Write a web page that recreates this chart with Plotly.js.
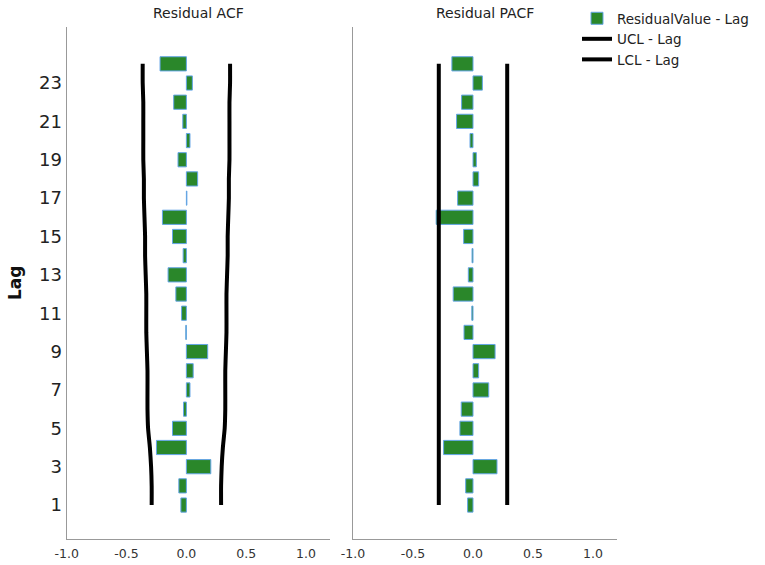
<!DOCTYPE html>
<html>
<head>
<meta charset="utf-8">
<script src="https://cdn.plot.ly/plotly-3.0.1.min.js"></script>
<style>html,body{margin:0;padding:0;background:#fff}#chart{width:765px;height:565px}</style>
</head>
<body>
<div id="chart"></div>
<script>
const lags = [1,2,3,4,5,6,7,8,9,10,11,12,13,14,15,16,17,18,19,20,21,22,23,24];
const acfValues = [-0.046,-0.063,0.204,-0.25,-0.116,-0.024,0.03,0.057,0.178,-0.005,-0.04,-0.088,-0.153,-0.027,-0.116,-0.2,0.004,0.094,-0.07,0.03,-0.03,-0.106,0.05,-0.22];
const acfUCL = [0.29,0.29,0.295,0.305,0.32,0.325,0.325,0.325,0.33,0.335,0.335,0.335,0.34,0.345,0.345,0.35,0.355,0.355,0.36,0.36,0.36,0.36,0.365,0.365];
const acfLCL = [-0.29,-0.29,-0.295,-0.305,-0.32,-0.325,-0.325,-0.325,-0.33,-0.335,-0.335,-0.335,-0.34,-0.345,-0.345,-0.35,-0.355,-0.355,-0.36,-0.36,-0.36,-0.36,-0.365,-0.365];
const pacfValues = [-0.045,-0.061,0.2,-0.245,-0.109,-0.098,0.131,0.047,0.184,-0.075,-0.01,-0.165,-0.039,-0.008,-0.078,-0.307,-0.128,0.047,0.028,-0.025,-0.137,-0.095,0.078,-0.176];
const pacfUCL = [0.285,0.285,0.285,0.285,0.285,0.285,0.285,0.285,0.285,0.285,0.285,0.285,0.285,0.285,0.285,0.285,0.285,0.285,0.285,0.285,0.285,0.285,0.285,0.285];
const pacfLCL = [-0.285,-0.285,-0.285,-0.285,-0.285,-0.285,-0.285,-0.285,-0.285,-0.285,-0.285,-0.285,-0.285,-0.285,-0.285,-0.285,-0.285,-0.285,-0.285,-0.285,-0.285,-0.285,-0.285,-0.285];
const xTickVals = [-1,-0.5,0,0.5,1];
const xTickText = ["-1.0","-0.5","0.0","0.5","1.0"];
const yTickVals = [1,3,5,7,9,11,13,15,17,19,21,23];
const panelTitles = ["Residual ACF","Residual PACF"];

const barColor = 'rgb(42,135,42)';
const barLine = 'rgb(100,165,230)';
const font = 'DejaVu Sans, sans-serif';

function bars(x, xa, ya, show) {
  return {type:'bar', orientation:'h', y:lags, x:x, width:0.74, xaxis:xa, yaxis:ya,
    name:'ResidualValue - Lag', legendgroup:'res', showlegend:show,
    marker:{color:barColor, line:{color:barLine, width:1}}};
}
function lim(x, xa, ya, name, show) {
  return {type:'scatter', mode:'lines', y:lags, x:x, xaxis:xa, yaxis:ya,
    name:name, legendgroup:name, showlegend:show,
    line:{color:'#000', width:4, shape:'spline', smoothing:0.6}};
}
const data = [
  bars(acfValues,'x','y',true),
  lim(acfUCL,'x','y','UCL - Lag',true),
  lim(acfLCL,'x','y','LCL - Lag',true),
  bars(pacfValues,'x2','y2',false),
  lim(pacfUCL,'x2','y2','UCL - Lag',false),
  lim(pacfLCL,'x2','y2','LCL - Lag',false)
];
const W = 765, H = 565;
const xaxisBase = {range:[-1,1.2], tickvals:xTickVals, ticktext:xTickText, showgrid:false, zeroline:false,
  showline:true, linecolor:'#999', linewidth:1.2, ticks:'', ticklabelstandoff:3,
  tickfont:{family:font,size:12.5,color:'#333'}, fixedrange:true};
const yaxisBase = {range:[-0.77,25.92], showgrid:false, zeroline:false, showline:true, linecolor:'#999', linewidth:1.2,
  ticks:'', tickvals:yTickVals, tickfont:{family:font,size:18,color:'#222'}, domain:[1-539/H, 1-27/H], fixedrange:true};
const layout = {
  width:W, height:H, margin:{l:0,r:0,t:0,b:0}, paper_bgcolor:'#fff', plot_bgcolor:'#fff',
  barmode:'overlay', bargap:0,
  xaxis:Object.assign({}, xaxisBase, {domain:[66.7/W, 330/W], anchor:'y'}),
  yaxis:Object.assign({}, yaxisBase, {anchor:'x'}),
  xaxis2:Object.assign({}, xaxisBase, {domain:[353/W, 617/W], anchor:'y2'}),
  yaxis2:Object.assign({}, yaxisBase, {anchor:'x2', showticklabels:false}),
  showlegend:true,
  legend:{x:577/W, y:1-3/H, xanchor:'left', yanchor:'top', font:{family:font,size:13.5,color:'#222'},
    bgcolor:'rgba(0,0,0,0)', tracegroupgap:0, itemwidth:30},
  annotations:[
    {text:panelTitles[0], xref:'paper', yref:'paper', x:198/W, y:1-13/H, showarrow:false, xanchor:'center', yanchor:'middle', font:{family:font,size:14,color:'#222'}},
    {text:panelTitles[1], xref:'paper', yref:'paper', x:485/W, y:1-13/H, showarrow:false, xanchor:'center', yanchor:'middle', font:{family:font,size:14,color:'#222'}},
    {text:'<b>Lag</b>', xref:'paper', yref:'paper', x:15/W, y:1-283/H, showarrow:false, textangle:-90, xanchor:'center', yanchor:'middle', font:{family:font,size:17,color:'#111'}}
  ]
};
Plotly.newPlot('chart', data, layout, {displayModeBar:false, staticPlot:true});
</script>
</body>
</html>
